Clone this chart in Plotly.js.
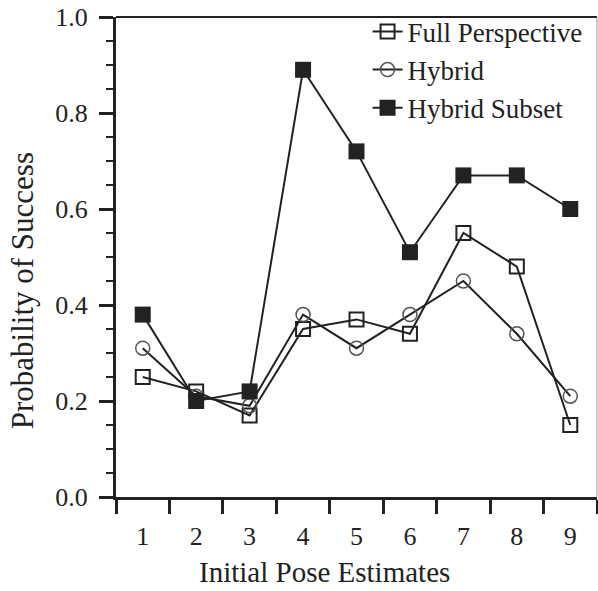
<!DOCTYPE html>
<html>
<head>
<meta charset="utf-8">
<script src="https://cdn.plot.ly/plotly-3.0.1.min.js"></script>
<style>html,body{margin:0;padding:0;background:#fff;}#chart{width:598px;height:591px;}</style>
</head>
<body>
<div id="chart"></div>
<script>
const categories = ['1','2','3','4','5','6','7','8','9'];
const fullPerspective = [0.25, 0.22, 0.17, 0.35, 0.37, 0.34, 0.55, 0.48, 0.15];
const hybrid = [0.31, 0.21, 0.19, 0.38, 0.31, 0.38, 0.45, 0.34, 0.21];
const hybridSubset = [0.38, 0.20, 0.22, 0.89, 0.72, 0.51, 0.67, 0.67, 0.60];
const seriesNames = ['Full Perspective', 'Hybrid', 'Hybrid Subset'];
const xTitle = 'Initial Pose Estimates';
const yTitle = 'Probability of Success';

const font = '"Liberation Serif", "Times New Roman", serif';
const ink = '#222';

const traces = [
  {x: categories, y: fullPerspective, name: seriesNames[0], mode: 'lines+markers',
   line: {color: ink, width: 2},
   marker: {symbol: 'square-open', size: 14, color: ink, line: {width: 2, color: ink}}},
  {x: categories, y: hybrid, name: seriesNames[1], mode: 'lines+markers',
   line: {color: ink, width: 2},
   marker: {symbol: 'circle-open', size: 14, color: '#555', line: {width: 1.5, color: '#555'}}},
  {x: categories, y: hybridSubset, name: seriesNames[2], mode: 'lines+markers',
   line: {color: ink, width: 2},
   marker: {symbol: 'square', size: 16, color: ink}}
];

const layout = {
  width: 598, height: 591,
  margin: {l: 116, r: 1, t: 17, b: 94},
  paper_bgcolor: '#fff', plot_bgcolor: '#fff',
  font: {family: font, size: 26, color: ink},
  showlegend: true,
  legend: {x: 0.523, y: 1.02, xanchor: 'left', yanchor: 'top', bgcolor: 'rgba(0,0,0,0)',
           font: {family: font, size: 27, color: ink}, tracegroupgap: 0, itemwidth: 30},
  xaxis: {
    type: 'category', range: [-0.5, 8.5], tickson: 'boundaries',
    ticks: 'outside', ticklen: 14, tickwidth: 3, tickcolor: ink,
    showline: true, linewidth: 3, linecolor: ink, showgrid: false, zeroline: false,
    tickfont: {family: font, size: 26, color: ink}, ticklabelstandoff: 14
  },
  yaxis: {
    range: [0, 1], dtick: 0.2, tickformat: '.1f',
    ticks: 'outside', ticklen: 14, tickwidth: 3, tickcolor: ink,
    minor: {dtick: 0.05, ticks: 'outside', ticklen: 7, tickwidth: 2, tickcolor: ink, showgrid: false},
    showline: true, linewidth: 3, linecolor: ink, showgrid: false, zeroline: false,
    tickfont: {family: font, size: 26, color: ink}, ticklabelstandoff: 6
  },
  annotations: [
    {text: xTitle, xref: 'paper', yref: 'paper', x: 0.4345, y: -0.156, xanchor: 'center', yanchor: 'middle',
     showarrow: false, font: {family: font, size: 29, color: ink}},
    {text: yTitle, xref: 'paper', yref: 'paper', x: -0.195, y: 0.429, xanchor: 'center', yanchor: 'middle',
     textangle: -90, showarrow: false, font: {family: font, size: 31, color: ink}}
  ],
  shapes: [
    {type: 'line', xref: 'paper', yref: 'paper', x0: 0, x1: 1, y0: 1, y1: 1, line: {color: ink, width: 2}},
    {type: 'line', xref: 'paper', yref: 'paper', x0: 1, x1: 1, y0: 0, y1: 1, line: {color: '#999', width: 1}}
  ]
};

Plotly.newPlot('chart', traces, layout, {displayModeBar: false, staticPlot: true});
</script>
</body>
</html>
